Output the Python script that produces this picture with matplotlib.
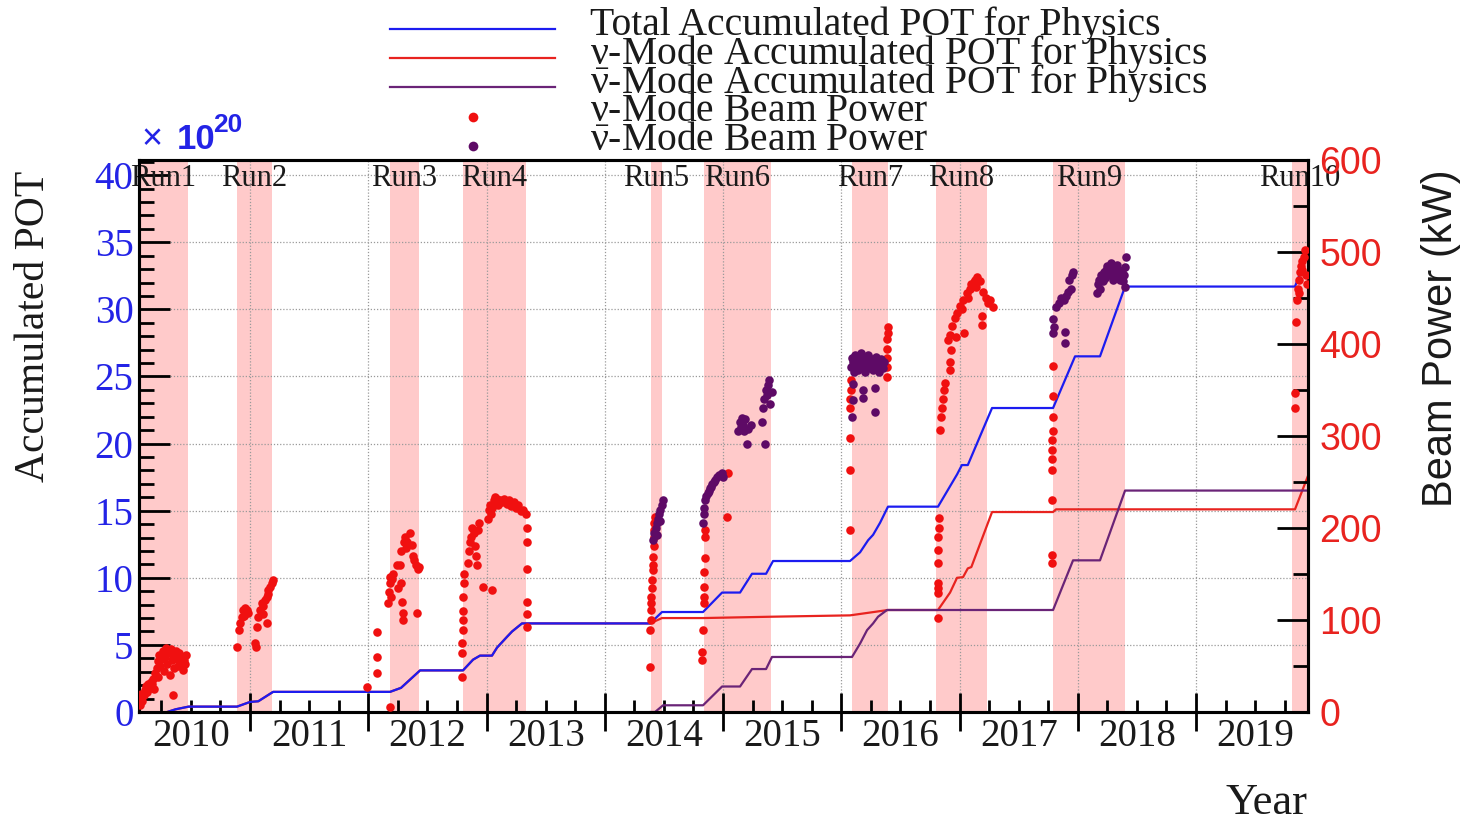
import matplotlib
matplotlib.use("Agg")
import matplotlib.pyplot as plt
from matplotlib.lines import Line2D
from matplotlib.ticker import MultipleLocator

plt.rcParams['mathtext.fontset'] = 'custom'
plt.rcParams['mathtext.rm'] = 'Liberation Serif'
plt.rcParams['mathtext.it'] = 'Liberation Serif'
plt.rcParams['mathtext.bf'] = 'Liberation Serif:bold'

SERIF = 'Liberation Serif'
SANS = 'Liberation Sans'

# Run periods (decimal year)
run_names = ["Run1", "Run2", "Run3", "Run4", "Run5", "Run6", "Run7", "Run8", "Run9", "Run10"]
run_start = [2010.06, 2010.890, 2012.184, 2012.801, 2014.391, 2014.839, 2016.091, 2016.801, 2017.791, 2019.812]
run_end = [2010.476, 2011.186, 2012.429, 2013.334, 2014.484, 2015.406, 2016.395, 2017.233, 2018.400, 2019.947]

years = list(range(2010, 2020))

# Accumulated POT (x 1e20)
total_t = [2010.30, 2010.37, 2010.48, 2010.89, 2011.00, 2011.07, 2011.195, 2012.184, 2012.277, 2012.438,
           2012.801, 2012.886, 2012.945, 2013.046, 2013.089, 2013.173, 2013.216, 2013.300, 2014.383, 2014.484,
           2014.831, 2014.992, 2015.144, 2015.245, 2015.364, 2015.423, 2016.074, 2016.159, 2016.227, 2016.269,
           2016.328, 2016.395, 2016.818, 2016.979, 2017.020, 2017.070, 2017.275, 2017.791, 2017.977, 2018.188,
           2018.400, 2019.837, 2019.947]
total_pot = [0.0, 0.2, 0.4, 0.4, 0.75, 0.8, 1.5, 1.5, 1.8, 3.1,
             3.1, 3.9, 4.2, 4.2, 4.8, 5.6, 6.0, 6.6, 6.6, 7.45,
             7.45, 8.9, 8.9, 10.3, 10.3, 11.25, 11.25, 11.9, 12.8, 13.2,
             14.1, 15.3, 15.3, 17.7, 18.4, 18.4, 22.65, 22.65, 26.5, 26.5,
             31.7, 31.7, 34.2]

nu_t = [2010.30, 2010.37, 2010.48, 2010.89, 2011.00, 2011.07, 2011.195, 2012.184, 2012.277, 2012.438,
        2012.801, 2012.886, 2012.945, 2013.046, 2013.089, 2013.173, 2013.216, 2013.300, 2014.383, 2014.484,
        2014.831, 2015.410, 2016.074, 2016.395, 2016.818, 2016.920, 2016.979, 2017.030, 2017.070, 2017.100,
        2017.275, 2017.791, 2017.816, 2019.837, 2019.947]
nu_pot = [0.0, 0.2, 0.4, 0.4, 0.75, 0.8, 1.5, 1.5, 1.8, 3.1,
          3.1, 3.9, 4.2, 4.2, 4.8, 5.6, 6.0, 6.6, 6.6, 7.0,
          7.0, 7.1, 7.2, 7.6, 7.6, 8.9, 10.0, 10.05, 10.7, 10.8,
          14.9, 14.9, 15.1, 15.1, 17.6]

anu_t = [2014.39, 2014.425, 2014.493, 2014.831, 2014.992, 2015.144, 2015.245, 2015.364, 2015.414, 2016.091,
         2016.159, 2016.218, 2016.269, 2016.311, 2016.387, 2017.791, 2017.960, 2018.188, 2018.400, 2019.947]
anu_pot = [0.0, 0.0, 0.5, 0.5, 1.9, 1.9, 3.2, 3.2, 4.1, 4.1,
           5.1, 6.1, 6.6, 7.1, 7.6, 7.6, 11.3, 11.3, 16.5, 16.5]

# Beam power (kW), neutrino mode
nu_power_run1 = [(2010.07, 8), (2010.075, 15), (2010.08, 20), (2010.09, 12), (2010.10, 18), (2010.11, 24),
                 (2010.12, 28), (2010.13, 22), (2010.14, 30), (2010.15, 26), (2010.16, 33), (2010.17, 30),
                 (2010.18, 36), (2010.19, 25), (2010.20, 42), (2010.21, 48), (2010.22, 55), (2010.22, 38),
                 (2010.23, 62), (2010.24, 50), (2010.25, 58), (2010.26, 66), (2010.27, 45), (2010.28, 60),
                 (2010.29, 70), (2010.30, 52), (2010.31, 64), (2010.32, 40), (2010.33, 68), (2010.34, 56),
                 (2010.35, 18), (2010.35, 62), (2010.36, 48), (2010.37, 66), (2010.38, 58), (2010.39, 50),
                 (2010.40, 64), (2010.41, 54), (2010.42, 60), (2010.43, 46), (2010.44, 56), (2010.45, 52),
                 (2010.46, 62)]
nu_power_run2 = [(2010.890, 71), (2010.904, 89), (2010.915, 97), (2010.930, 103), (2010.944, 111),
                 (2010.958, 113), (2010.972, 111), (2010.986, 108), (2010.950, 104), (2011.042, 75),
                 (2011.051, 71), (2011.056, 92), (2011.070, 103), (2011.085, 111), (2011.099, 118),
                 (2011.113, 115), (2011.127, 122), (2011.141, 125), (2011.141, 97), (2011.155, 133),
                 (2011.169, 136), (2011.183, 140), (2011.197, 143), (2011.150, 128), (2011.110, 106)]
nu_power_run3 = [(2011.99, 27), (2012.07, 87), (2012.07, 60), (2012.075, 42), (2012.184, 5), (2012.17, 118),
                 (2012.175, 130), (2012.18, 140), (2012.185, 147), (2012.19, 125), (2012.20, 145),
                 (2012.21, 150), (2012.24, 160), (2012.25, 135), (2012.27, 160), (2012.28, 175),
                 (2012.28, 140), (2012.285, 120), (2012.29, 108), (2012.29, 100), (2012.30, 185),
                 (2012.31, 190), (2012.32, 178), (2012.33, 185), (2012.35, 195), (2012.37, 182),
                 (2012.38, 170), (2012.39, 165), (2012.40, 160), (2012.41, 108), (2012.42, 155), (2012.43, 158)]
nu_power_run4 = [(2012.79, 38), (2012.79, 64), (2012.795, 75), (2012.80, 89), (2012.80, 100), (2012.80, 110),
                 (2012.805, 125), (2012.81, 140), (2012.81, 150), (2012.84, 162), (2012.85, 175),
                 (2012.86, 185), (2012.87, 190), (2012.88, 200), (2012.89, 195), (2012.90, 180),
                 (2012.91, 170), (2012.92, 160), (2012.93, 198), (2012.94, 205), (2012.97, 136),
                 (2013.046, 133), (2013.01, 210), (2013.02, 220), (2013.03, 225), (2013.04, 215),
                 (2013.05, 222), (2013.06, 230), (2013.07, 234), (2013.08, 228), (2013.09, 232),
                 (2013.10, 225), (2013.11, 230), (2013.13, 228), (2013.15, 232), (2013.17, 226),
                 (2013.19, 230), (2013.21, 224), (2013.23, 228), (2013.25, 222), (2013.27, 225),
                 (2013.29, 218), (2013.31, 220), (2013.33, 215), (2013.34, 200), (2013.34, 185),
                 (2013.34, 155), (2013.34, 120), (2013.34, 107), (2013.34, 92)]
nu_power_run5 = [(2014.383, 49), (2014.385, 89), (2014.39, 100), (2014.39, 111), (2014.395, 118),
                 (2014.395, 125), (2014.40, 135), (2014.40, 143), (2014.405, 154), (2014.41, 160),
                 (2014.41, 169), (2014.415, 180), (2014.415, 190), (2014.42, 198), (2014.42, 205),
                 (2014.425, 212)]
nu_power_run6 = [(2014.822, 57), (2014.825, 65), (2014.83, 89), (2014.835, 118), (2014.835, 125),
                 (2014.84, 136), (2014.84, 152), (2014.845, 167), (2014.845, 190), (2014.848, 198),
                 (2015.035, 212), (2015.04, 260)]
nu_power_run7 = [(2016.074, 198), (2016.074, 263), (2016.076, 298), (2016.078, 330), (2016.078, 340),
                 (2016.08, 350), (2016.08, 361), (2016.387, 364), (2016.385, 375), (2016.387, 385),
                 (2016.39, 395), (2016.39, 405), (2016.392, 412), (2016.392, 418)]
nu_power_run8 = [(2016.818, 102), (2016.818, 129), (2016.82, 135), (2016.82, 140), (2016.82, 162),
                 (2016.822, 176), (2016.822, 190), (2016.825, 200), (2016.825, 211), (2016.835, 307),
                 (2016.84, 321), (2016.85, 330), (2016.86, 340), (2016.87, 350), (2016.88, 358),
                 (2016.92, 372), (2016.92, 380), (2016.925, 394), (2016.90, 404), (2016.92, 410),
                 (2016.94, 420), (2016.96, 428), (2016.98, 434), (2016.97, 408), (2017.04, 412),
                 (2017.00, 441), (2017.03, 448), (2017.06, 455), (2017.09, 460), (2017.12, 467),
                 (2017.10, 465), (2017.13, 470), (2017.15, 473), (2017.17, 468), (2017.20, 456),
                 (2017.22, 450), (2017.24, 445), (2017.26, 448), (2017.28, 440), (2017.19, 421),
                 (2017.19, 430), (2017.02, 438), (2017.07, 450), (2017.14, 462)]
nu_power_run9 = [(2017.782, 162), (2017.782, 171), (2017.782, 230), (2017.782, 263), (2017.785, 275),
                 (2017.785, 285), (2017.785, 296), (2017.788, 305), (2017.788, 321), (2017.79, 343),
                 (2017.79, 376)]
nu_power_run10 = [(2019.84, 330), (2019.84, 347), (2019.845, 424), (2019.85, 448), (2019.86, 460),
                  (2019.87, 470), (2019.88, 478), (2019.89, 485), (2019.90, 490), (2019.91, 495),
                  (2019.92, 502), (2019.93, 475), (2019.94, 465), (2019.87, 455), (2019.90, 480)]

# Beam power (kW), antineutrino mode
anu_power_run5 = [(2014.41, 187), (2014.42, 195), (2014.43, 200), (2014.44, 205), (2014.45, 210),
                  (2014.46, 215), (2014.47, 220), (2014.48, 225), (2014.49, 230), (2014.44, 192),
                  (2014.47, 208)]
anu_power_run6 = [(2014.83, 205), (2014.835, 215), (2014.84, 222), (2014.85, 230), (2014.86, 235),
                  (2014.87, 238), (2014.88, 240), (2014.89, 243), (2014.90, 245), (2014.91, 248),
                  (2014.92, 250), (2014.93, 252), (2014.95, 255), (2014.97, 258), (2014.99, 260),
                  (2015.00, 255), (2015.13, 305), (2015.14, 315), (2015.15, 310), (2015.16, 320),
                  (2015.17, 312), (2015.18, 305), (2015.19, 318), (2015.20, 291), (2015.21, 308),
                  (2015.24, 312), (2015.355, 291), (2015.33, 315), (2015.34, 330), (2015.35, 340),
                  (2015.36, 350), (2015.37, 345), (2015.38, 355), (2015.39, 361), (2015.40, 335),
                  (2015.41, 348)]
anu_power_run7 = [(2016.08, 375), (2016.09, 385), (2016.10, 380), (2016.11, 370), (2016.12, 388),
                  (2016.13, 378), (2016.14, 372), (2016.15, 385), (2016.16, 380), (2016.17, 390),
                  (2016.18, 376), (2016.19, 382), (2016.20, 370), (2016.21, 385), (2016.22, 378),
                  (2016.23, 388), (2016.24, 374), (2016.25, 380), (2016.26, 384), (2016.27, 372),
                  (2016.28, 378), (2016.29, 386), (2016.30, 375), (2016.31, 382), (2016.32, 370),
                  (2016.33, 378), (2016.34, 384), (2016.35, 374), (2016.36, 380), (2016.099, 357),
                  (2016.099, 339), (2016.09, 321), (2016.184, 350), (2016.184, 341), (2016.285, 352),
                  (2016.285, 326)]
anu_power_run9 = [(2017.79, 412), (2017.80, 418), (2017.79, 427), (2017.82, 440), (2017.84, 445),
                  (2017.86, 450), (2017.88, 448), (2017.90, 452), (2017.92, 456), (2017.94, 460),
                  (2017.93, 470), (2017.95, 475), (2017.96, 478), (2017.89, 401), (2017.89, 413),
                  (2018.16, 455), (2018.17, 465), (2018.18, 470), (2018.19, 460), (2018.20, 475),
                  (2018.21, 468), (2018.22, 478), (2018.23, 472), (2018.24, 480), (2018.25, 485),
                  (2018.26, 475), (2018.27, 482), (2018.28, 488), (2018.29, 478), (2018.30, 470),
                  (2018.31, 482), (2018.32, 476), (2018.33, 486), (2018.34, 472), (2018.35, 480),
                  (2018.36, 470), (2018.37, 478), (2018.38, 468), (2018.39, 475), (2018.40, 484),
                  (2018.41, 495), (2018.40, 462)]

nu_power = (nu_power_run1 + nu_power_run2 + nu_power_run3 + nu_power_run4 + nu_power_run5 +
            nu_power_run6 + nu_power_run7 + nu_power_run8 + nu_power_run9 + nu_power_run10)
anu_power = anu_power_run5 + anu_power_run6 + anu_power_run7 + anu_power_run9

C_TOTAL = '#1c1cf0'
C_NU = '#e8231f'
C_ANU = '#6a2477'
C_NU_DOT = '#f01010'
C_ANU_DOT = '#5e0a66'
C_BAND = '#ffcaca'
C_LEFT = '#2323e6'

W, H = 1466, 822
fig = plt.figure(figsize=(W / 100, H / 100), dpi=100)


def fx(px):
    return px / W


def fy(py):
    return 1 - py / H


ax = fig.add_axes([fx(139), fy(712), (1308 - 139) / W, 552 / H])
ax.set_xlim(2010.061, 2019.947)
ax.set_ylim(0, 41.13)

for s, e in zip(run_start, run_end):
    ax.axvspan(s, e, color=C_BAND, lw=0, zorder=0.2)

ax.set_axisbelow(True)
ax.grid(True, which='major', color='#9a9a9a', linestyle=(0, (1, 1.5)), linewidth=0.9)

ax.plot(nu_t, nu_pot, color=C_NU, lw=1.6, zorder=2)
ax.plot(anu_t, anu_pot, color=C_ANU, lw=1.6, zorder=3)
ax.plot(total_t, total_pot, color=C_TOTAL, lw=1.6, zorder=4)

# x axis: year boundaries as major ticks, quarters as minor ticks
ax.set_xticks(years[1:])
ax.set_xticklabels([])
ax.set_xticks([y + q for y in years for q in (0.25, 0.5, 0.75)], minor=True)
ax.tick_params(axis='x', which='major', direction='inout', length=28, width=2.0, top=False)
ax.tick_params(axis='x', which='minor', direction='in', length=9, width=2.0, top=False)
for y in years:
    ax.text(y + 0.5, -0.045, str(y), transform=ax.get_xaxis_transform(), ha='center', va='center',
            fontsize=28, family=SERIF, color='#1a1a1a')

ax.yaxis.set_major_locator(MultipleLocator(5))
ax.yaxis.set_minor_locator(MultipleLocator(1))
ax.tick_params(axis='y', which='major', direction='in', length=22, width=2.0, right=False,
               labelsize=28, labelcolor=C_LEFT, pad=4)
ax.tick_params(axis='y', which='minor', direction='in', length=11, width=2.0, right=False)
for lab in ax.get_yticklabels():
    lab.set_family(SERIF)
for sp in ax.spines.values():
    sp.set_linewidth(2.2)

# beam power on the right axis
ax2 = ax.twinx()
ax2.set_ylim(0, 600)
ax2.scatter([p[0] for p in nu_power], [p[1] for p in nu_power], s=38, color=C_NU_DOT, lw=0, zorder=5)
ax2.scatter([p[0] for p in anu_power], [p[1] for p in anu_power], s=38, color=C_ANU_DOT, lw=0, zorder=6)
ax2.yaxis.set_major_locator(MultipleLocator(100))
ax2.yaxis.set_minor_locator(MultipleLocator(50))
ax2.tick_params(axis='y', which='major', direction='in', length=22, width=2.0, labelsize=27,
                labelcolor=C_NU, pad=8)
ax2.tick_params(axis='y', which='minor', direction='in', length=11, width=2.0)
for lab in ax2.get_yticklabels():
    lab.set_family(SANS)
for sp in ax2.spines.values():
    sp.set_linewidth(2.2)

# run labels
for name, s, e in zip(run_names, run_start, run_end):
    ax.text((s + e) / 2, 0.967, name, transform=ax.get_xaxis_transform(), ha='center', va='center',
            fontsize=22, family=SERIF, color='#1a1a1a', zorder=7)

# axis titles
fig.text(fx(34), fy(326), "Accumulated POT", rotation=90, ha='center', va='center',
         fontsize=30, family=SERIF, color='#1a1a1a')
fig.text(fx(1441), fy(338), "Beam Power (kW)", rotation=90, ha='center', va='center',
         fontsize=30, family=SANS, color='#1a1a1a')
fig.text(fx(1307), fy(814), "Year", ha='right', va='baseline', fontsize=32, family=SERIF, color='#1a1a1a')

# exponent of the left axis
fig.text(fx(142), fy(149), "\u00d7", ha='left', va='baseline', fontsize=26, family=SANS, color=C_LEFT)
fig.text(fx(177), fy(149), "10", ha='left', va='baseline', fontsize=25, family=SANS,
         weight='bold', color=C_LEFT)
fig.text(fx(213), fy(132), "20", ha='left', va='baseline', fontsize=19, family=SANS,
         weight='bold', color=C_LEFT)

# legend
leg_rows = [
    ("line", C_TOTAL, "Total Accumulated POT for Physics"),
    ("line", C_NU, r"$\nu$-Mode Accumulated POT for Physics"),
    ("line", C_ANU, r"$\bar{\nu}$-Mode Accumulated POT for Physics"),
    ("dot", C_NU_DOT, r"$\nu$-Mode Beam Power"),
    ("dot", C_ANU_DOT, r"$\bar{\nu}$-Mode Beam Power"),
]
mark_y = [29, 58, 87, 117, 146]
text_y = [35, 64, 93, 121, 150]
for (kind, col, label), my, ty in zip(leg_rows, mark_y, text_y):
    if kind == "line":
        fig.add_artist(Line2D([fx(390), fx(555)], [fy(my), fy(my)], color=col, lw=1.6))
    else:
        fig.add_artist(Line2D([fx(473)], [fy(my)], marker='o', markersize=7, color=col, lw=0,
                              markeredgewidth=0))
    fig.text(fx(590), fy(ty), label, ha='left', va='baseline', fontsize=28.5, family=SERIF, color='#1a1a1a')

fig.savefig("out.png", dpi=100)
